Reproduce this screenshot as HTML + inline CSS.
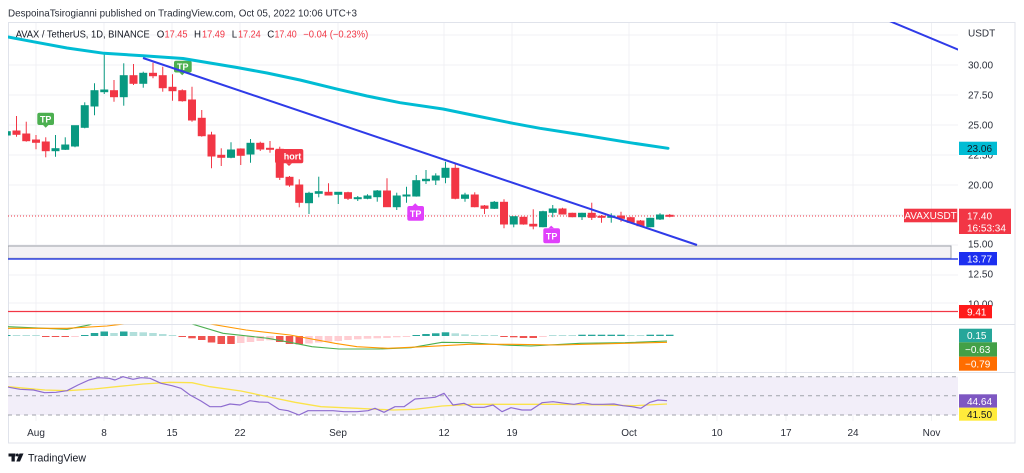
<!DOCTYPE html>
<html><head><meta charset="utf-8"><style>
html,body{margin:0;padding:0;background:#fff;}
svg{display:block;font-family:"Liberation Sans",Arial,sans-serif;}
</style></head><body>
<svg width="1024" height="473" viewBox="0 0 1024 473" xmlns="http://www.w3.org/2000/svg">
<defs>
<clipPath id="cm"><rect x="8" y="22" width="950" height="302"/></clipPath>
<clipPath id="cmacd"><rect x="8" y="324.5" width="950" height="47"/></clipPath>
<clipPath id="crsi"><rect x="8" y="372.5" width="950" height="49"/></clipPath>
</defs>
<rect width="1024" height="473" fill="#fff"/>
<!-- header -->
<text x="8" y="16.7" font-size="10.5" fill="#2a2e39" textLength="349" lengthAdjust="spacingAndGlyphs">DespoinaTsirogianni published on TradingView.com, Oct 05, 2022 10:06 UTC+3</text>

<!-- vertical grid -->
<g stroke="#f0f1f4" stroke-width="1">
<line x1="36" y1="22" x2="36" y2="421"/><line x1="104" y1="22" x2="104" y2="421"/><line x1="172" y1="22" x2="172" y2="421"/><line x1="240" y1="22" x2="240" y2="421"/><line x1="338" y1="22" x2="338" y2="421"/><line x1="444" y1="22" x2="444" y2="421"/><line x1="512" y1="22" x2="512" y2="421"/><line x1="629" y1="22" x2="629" y2="421"/><line x1="717" y1="22" x2="717" y2="421"/><line x1="786" y1="22" x2="786" y2="421"/><line x1="853" y1="22" x2="853" y2="421"/><line x1="931.5" y1="22" x2="931.5" y2="421"/>
</g>
<!-- horizontal grid main -->
<g stroke="#f0f1f4" stroke-width="1">
<line x1="8" y1="35" x2="958" y2="35"/><line x1="8" y1="65" x2="958" y2="65"/><line x1="8" y1="95" x2="958" y2="95"/><line x1="8" y1="125" x2="958" y2="125"/><line x1="8" y1="155" x2="958" y2="155"/><line x1="8" y1="185" x2="958" y2="185"/><line x1="8" y1="215" x2="958" y2="215"/><line x1="8" y1="245" x2="958" y2="245"/><line x1="8" y1="275" x2="958" y2="275"/><line x1="8" y1="303" x2="958" y2="303"/>
</g>

<!-- frame -->
<g stroke="#e0e3eb" stroke-width="1" fill="none">
<rect x="8.5" y="22.5" width="1006.5" height="420.5"/>
<line x1="8" y1="324.5" x2="1015" y2="324.5"/>
<line x1="8" y1="372.5" x2="1015" y2="372.5"/>
</g>

<text x="15.7" y="37.3" font-size="9.7" fill="#131722" textLength="134" lengthAdjust="spacingAndGlyphs">AVAX / TetherUS, 1D, BINANCE</text>
<g font-size="9.7">
<text x="156.7" y="37.3" fill="#131722">O</text><text x="164.5" y="37.3" fill="#f23645" textLength="23" lengthAdjust="spacingAndGlyphs">17.45</text>
<text x="194" y="37.3" fill="#131722">H</text><text x="202" y="37.3" fill="#f23645" textLength="23" lengthAdjust="spacingAndGlyphs">17.49</text>
<text x="231.7" y="37.3" fill="#131722">L</text><text x="238" y="37.3" fill="#f23645" textLength="22.7" lengthAdjust="spacingAndGlyphs">17.24</text>
<text x="267.3" y="37.3" fill="#131722">C</text><text x="274.5" y="37.3" fill="#f23645" textLength="22.2" lengthAdjust="spacingAndGlyphs">17.40</text>
<text x="303.3" y="37.3" fill="#f23645" textLength="65" lengthAdjust="spacingAndGlyphs">−0.04 (−0.23%)</text>
</g>

<g clip-path="url(#cm)">
<!-- gray rect & horizontal lines -->
<rect x="8" y="246" width="943" height="12.3" fill="#f3f2f5" stroke="#9da0a8" stroke-width="1"/>
<line x1="8" y1="259" x2="958" y2="259" stroke="#3447e6" stroke-width="1.6"/>
<line x1="8" y1="311.5" x2="958" y2="311.5" stroke="#f23645" stroke-width="1.3"/>
<line x1="8" y1="216" x2="904" y2="216" stroke="#f23645" stroke-width="1" stroke-dasharray="1,2"/>

<!-- labels -->
<rect x="37.3" y="112.7" width="16.7" height="12.3" rx="2" fill="#4caf50"/>
<polygon points="43,125 48.5,125 45.7,127.7" fill="#4caf50"/>
<text x="45.7" y="122.3" font-size="9" font-weight="bold" fill="#fff" text-anchor="middle">TP</text>
<rect x="174" y="60.7" width="17.7" height="11.8" rx="2" fill="#4caf50"/>
<polygon points="179.5,72.5 185,72.5 182.2,75.3" fill="#4caf50"/>
<text x="182.8" y="70" font-size="9" font-weight="bold" fill="#fff" text-anchor="middle">TP</text>
<rect x="407.3" y="206" width="16.7" height="14.7" rx="2" fill="#e040fb"/>
<polygon points="412.5,206 418,206 415.2,203.3" fill="#e040fb"/>
<text x="415.6" y="216.8" font-size="9" font-weight="bold" fill="#fff" text-anchor="middle">TP</text>
<rect x="543.3" y="228.3" width="16.7" height="15" rx="2" fill="#e040fb"/>
<polygon points="548.5,228.3 554,228.3 551.2,225.6" fill="#e040fb"/>
<text x="551.6" y="239.3" font-size="9" font-weight="bold" fill="#fff" text-anchor="middle">TP</text>
<rect x="275" y="149" width="28.3" height="14.3" rx="2" fill="#f23645"/>
<polygon points="286,163.3 292,163.3 289,166" fill="#f23645"/>
<text x="289.5" y="159.6" font-size="9" font-weight="bold" fill="#fff" text-anchor="middle">Short</text>

<!-- green candles -->
<g stroke="#089981" fill="#089981" stroke-width="1">
<line x1="6.75" y1="130" x2="6.75" y2="136"/><rect x="3.25" y="131.7" width="7" height="3.3"/>
<line x1="55.5" y1="135" x2="55.5" y2="156.7"/><rect x="52" y="148.7" width="7" height="2"/>
<line x1="65.25" y1="137.3" x2="65.25" y2="150"/><rect x="61.75" y="145" width="7" height="4.3"/>
<line x1="75" y1="125.7" x2="75" y2="147.3"/><rect x="71.5" y="125.7" width="7" height="20.3"/>
<line x1="84.75" y1="102.3" x2="84.75" y2="128.3"/><rect x="81.25" y="105.7" width="7" height="21.6"/>
<line x1="94.5" y1="83.3" x2="94.5" y2="115.3"/><rect x="91" y="90.7" width="7" height="15.3"/>
<line x1="104.25" y1="52" x2="104.25" y2="94"/><rect x="100.75" y="90" width="7" height="1.7"/>
<line x1="123.75" y1="63.3" x2="123.75" y2="105.7"/><rect x="120.25" y="75.7" width="7" height="21"/>
<line x1="143.25" y1="71.7" x2="143.25" y2="87.7"/><rect x="139.75" y="73.3" width="7" height="10"/>
<line x1="231" y1="142.3" x2="231" y2="158.3"/><rect x="227.5" y="150" width="7" height="7.3"/>
<line x1="250.5" y1="139" x2="250.5" y2="162.7"/><rect x="247" y="143.3" width="7" height="10.7"/>
<line x1="309" y1="191.7" x2="309" y2="214"/><rect x="305.5" y="193.3" width="7" height="9.4"/>
<line x1="318.75" y1="176.7" x2="318.75" y2="197.3"/><rect x="315.25" y="191.7" width="7" height="1.6"/>
<line x1="338.25" y1="192" x2="338.25" y2="204"/><rect x="334.75" y="192.3" width="7" height="2"/>
<line x1="357.75" y1="196" x2="357.75" y2="201"/><rect x="354.25" y="197.7" width="7" height="1"/>
<line x1="367.5" y1="194.3" x2="367.5" y2="199.3"/><rect x="364" y="196" width="7" height="2.3"/>
<line x1="377.25" y1="190" x2="377.25" y2="201.7"/><rect x="373.75" y="191" width="7" height="5.7"/>
<line x1="396.75" y1="192.7" x2="396.75" y2="210"/><rect x="393.25" y="196" width="7" height="10.7"/>
<line x1="406.5" y1="186.7" x2="406.5" y2="202.7"/><rect x="403" y="195" width="7" height="1"/>
<line x1="416.25" y1="175" x2="416.25" y2="196.7"/><rect x="412.75" y="180.7" width="7" height="15.3"/>
<line x1="426" y1="170" x2="426" y2="184"/><rect x="422.5" y="179.3" width="7" height="1.4"/>
<line x1="435.75" y1="173.3" x2="435.75" y2="185"/><rect x="432.25" y="176" width="7" height="4"/>
<line x1="445.5" y1="161.7" x2="445.5" y2="183.3"/><rect x="442" y="168.3" width="7" height="9"/>
<line x1="465" y1="192.7" x2="465" y2="201.7"/><rect x="461.5" y="195" width="7" height="3.3"/>
<line x1="494.25" y1="201" x2="494.25" y2="209"/><rect x="490.75" y="202.3" width="7" height="6"/>
<line x1="513.75" y1="216.7" x2="513.75" y2="227.3"/><rect x="510.25" y="216.7" width="7" height="7.3"/>
<line x1="543" y1="210.7" x2="543" y2="227.3"/><rect x="539.5" y="211.7" width="7" height="15"/>
<line x1="552.75" y1="205" x2="552.75" y2="217.3"/><rect x="549.25" y="209" width="7" height="3.3"/>
<line x1="582" y1="212.7" x2="582" y2="220"/><rect x="578.5" y="213.3" width="7" height="3.4"/>
<line x1="611.25" y1="213.3" x2="611.25" y2="222.7"/><rect x="607.75" y="216" width="7" height="1.3"/>
<line x1="650.25" y1="217.7" x2="650.25" y2="227.3"/><rect x="646.75" y="218.3" width="7" height="8.4"/>
<line x1="660" y1="213.3" x2="660" y2="220"/><rect x="656.5" y="215" width="7" height="4"/>
</g>
<!-- red candles -->
<g stroke="#f23645" fill="#f23645" stroke-width="1">
<line x1="16.5" y1="116" x2="16.5" y2="136.7"/><rect x="13" y="131" width="7" height="3.3"/>
<line x1="26.25" y1="121.7" x2="26.25" y2="141.7"/><rect x="22.75" y="134" width="7" height="6.7"/>
<line x1="36" y1="135" x2="36" y2="149.3"/><rect x="32.5" y="140" width="7" height="2.3"/>
<line x1="45.75" y1="137.3" x2="45.75" y2="157.3"/><rect x="42.25" y="142" width="7" height="8.7"/>
<line x1="114" y1="80" x2="114" y2="101.7"/><rect x="110.5" y="90.7" width="7" height="6"/>
<line x1="133.5" y1="64" x2="133.5" y2="85"/><rect x="130" y="75.7" width="7" height="7.6"/>
<line x1="153" y1="62.7" x2="153" y2="78.3"/><rect x="149.5" y="73.3" width="7" height="2.4"/>
<line x1="162.75" y1="66.7" x2="162.75" y2="91.7"/><rect x="159.25" y="75.7" width="7" height="12"/>
<line x1="172.5" y1="74.3" x2="172.5" y2="100.7"/><rect x="169" y="87.3" width="7" height="3.4"/>
<line x1="182.25" y1="89.3" x2="182.25" y2="101.7"/><rect x="178.75" y="90.7" width="7" height="10"/>
<line x1="192" y1="86.7" x2="192" y2="121.7"/><rect x="188.5" y="100" width="7" height="20"/>
<line x1="201.75" y1="110" x2="201.75" y2="136.7"/><rect x="198.25" y="118.3" width="7" height="17.4"/>
<line x1="211.5" y1="131.7" x2="211.5" y2="168.3"/><rect x="208" y="135" width="7" height="21"/>
<line x1="221.25" y1="148.3" x2="221.25" y2="166"/><rect x="217.75" y="155.3" width="7" height="2"/>
<line x1="240.75" y1="148.3" x2="240.75" y2="165"/><rect x="237.25" y="149" width="7" height="6.3"/>
<line x1="260.25" y1="141.7" x2="260.25" y2="151"/><rect x="256.75" y="143.3" width="7" height="5.7"/>
<line x1="270" y1="141" x2="270" y2="152.7"/><rect x="266.5" y="148.3" width="7" height="1"/>
<line x1="279.75" y1="146.7" x2="279.75" y2="180"/><rect x="276.25" y="149.3" width="7" height="28"/>
<line x1="289.5" y1="176" x2="289.5" y2="186.7"/><rect x="286" y="177.3" width="7" height="7.7"/>
<line x1="299.25" y1="179.3" x2="299.25" y2="207.3"/><rect x="295.75" y="185" width="7" height="17.3"/>
<line x1="328.5" y1="183.3" x2="328.5" y2="195"/><rect x="325" y="192.3" width="7" height="2.7"/>
<line x1="348" y1="191.7" x2="348" y2="200"/><rect x="344.5" y="192.7" width="7" height="5.6"/>
<line x1="387" y1="178.3" x2="387" y2="206.7"/><rect x="383.5" y="191" width="7" height="15.7"/>
<line x1="455.25" y1="164" x2="455.25" y2="199.3"/><rect x="451.75" y="168.3" width="7" height="30"/>
<line x1="474.75" y1="192.3" x2="474.75" y2="207.3"/><rect x="471.25" y="195" width="7" height="11.7"/>
<line x1="484.5" y1="205" x2="484.5" y2="214"/><rect x="481" y="206" width="7" height="2.3"/>
<line x1="504" y1="199.3" x2="504" y2="228.3"/><rect x="500.5" y="202.3" width="7" height="21.7"/>
<line x1="523.5" y1="216.7" x2="523.5" y2="224.7"/><rect x="520" y="217.3" width="7" height="6.7"/>
<line x1="533.25" y1="209.3" x2="533.25" y2="229.3"/><rect x="529.75" y="224.3" width="7" height="1.7"/>
<line x1="562.5" y1="207.7" x2="562.5" y2="214.3"/><rect x="559" y="209" width="7" height="5"/>
<line x1="572.25" y1="212.7" x2="572.25" y2="217.3"/><rect x="568.75" y="213.3" width="7" height="3.4"/>
<line x1="591.75" y1="202.7" x2="591.75" y2="220"/><rect x="588.25" y="213.3" width="7" height="4"/>
<line x1="601.5" y1="215" x2="601.5" y2="222.7"/><rect x="598" y="216.3" width="7" height="1"/>
<line x1="621" y1="211.7" x2="621" y2="221.7"/><rect x="617.5" y="216" width="7" height="2.3"/>
<line x1="630.75" y1="216.7" x2="630.75" y2="223.3"/><rect x="627.25" y="217.7" width="7" height="4.6"/>
<line x1="640.5" y1="220" x2="640.5" y2="226.7"/><rect x="637" y="221" width="7" height="4.7"/>
<line x1="669.75" y1="214" x2="669.75" y2="217.3"/><rect x="666.25" y="215.3" width="7" height="1"/>
</g>

<!-- EMA -->
<polyline fill="none" stroke="#00bcd4" stroke-width="3" stroke-linejoin="round" stroke-linecap="round" points="8,37 33,41.7 67,48 104,53.3 143,55.7 183,58.5 207,62.5 237,67.5 267,73 300,80 338,89.3 367,96 400,102.7 443,109 477,116 513,123.3 540,128.3 583,135 630,142.7 668,148.3"/>
<!-- trend lines -->
<line x1="143" y1="58" x2="697" y2="245" stroke="#2f3be8" stroke-width="2"/>
<line x1="889" y1="20.8" x2="959" y2="50" stroke="#2f3be8" stroke-width="2"/>
</g>

<!-- MACD pane -->
<g clip-path="url(#cmacd)">
<g fill="#26a69a">
<rect x="3" y="335" width="7.5" height="1"/><rect x="81" y="335" width="7.5" height="1"/><rect x="90.75" y="333" width="7.5" height="3"/><rect x="100.5" y="331.5" width="7.5" height="4.5"/><rect x="120" y="331.5" width="7.5" height="4.5"/>
<rect x="412.5" y="335" width="7.5" height="1"/><rect x="422.25" y="334" width="7.5" height="2"/><rect x="432" y="333.3" width="7.5" height="2.7"/><rect x="441.75" y="332.3" width="7.5" height="3.7"/>
<rect x="578.25" y="334.7" width="7.5" height="1.3"/><rect x="588" y="334.7" width="7.5" height="1.3"/><rect x="597.75" y="334.7" width="7.5" height="1.3"/><rect x="607.5" y="334.7" width="7.5" height="1.3"/><rect x="617.25" y="334.7" width="7.5" height="1.3"/>
<rect x="646.5" y="334.7" width="7.5" height="1.3"/><rect x="656.25" y="334.7" width="7.5" height="1.3"/><rect x="666" y="334.7" width="7.5" height="1.3"/>
</g>
<g fill="#b2dfdb">
<rect x="12.75" y="335" width="7.5" height="1"/><rect x="22.5" y="335" width="7.5" height="1"/><rect x="32.25" y="335" width="7.5" height="1"/>
<rect x="110.25" y="333" width="7.5" height="3"/><rect x="129.75" y="332" width="7.5" height="4"/><rect x="139.5" y="332.3" width="7.5" height="3.7"/><rect x="149.25" y="333" width="7.5" height="3"/><rect x="159" y="334" width="7.5" height="2"/><rect x="168.75" y="335" width="7.5" height="1"/>
<rect x="451.5" y="333.3" width="7.5" height="2.7"/><rect x="461.25" y="334.3" width="7.5" height="1.7"/><rect x="471" y="335" width="7.5" height="1"/><rect x="480.75" y="335" width="7.5" height="1"/><rect x="490.5" y="335" width="7.5" height="1"/>
<rect x="549" y="335" width="7.5" height="1"/><rect x="558.75" y="335" width="7.5" height="1"/><rect x="568.5" y="335" width="7.5" height="1"/>
<rect x="627" y="335" width="7.5" height="1"/><rect x="636.75" y="335" width="7.5" height="1"/>
</g>
<g fill="#ef5350">
<rect x="42" y="336" width="7.5" height="1"/><rect x="51.75" y="336" width="7.5" height="1"/><rect x="61.5" y="336" width="7.5" height="1"/>
<rect x="178.5" y="336" width="7.5" height="1"/><rect x="188.25" y="336" width="7.5" height="2.3"/><rect x="198" y="336" width="7.5" height="4"/><rect x="207.75" y="336" width="7.5" height="6.5"/><rect x="217.5" y="336" width="7.5" height="8"/><rect x="227.25" y="336" width="7.5" height="8"/>
<rect x="276" y="336" width="7.5" height="6"/><rect x="285.75" y="336" width="7.5" height="8"/><rect x="295.5" y="336" width="7.5" height="8.3"/>
<rect x="500.25" y="336" width="7.5" height="1"/><rect x="510" y="336" width="7.5" height="1.3"/><rect x="519.75" y="336" width="7.5" height="2"/><rect x="529.5" y="336" width="7.5" height="2"/>
</g>
<g fill="#ffcdd2">
<rect x="71.25" y="336" width="7.5" height="1"/>
<rect x="237" y="336" width="7.5" height="7"/><rect x="246.75" y="336" width="7.5" height="6"/><rect x="256.5" y="336" width="7.5" height="5"/><rect x="266.25" y="336" width="7.5" height="4.3"/>
<rect x="305.25" y="336" width="7.5" height="7.5"/><rect x="315" y="336" width="7.5" height="6.5"/><rect x="324.75" y="336" width="7.5" height="5.7"/><rect x="334.5" y="336" width="7.5" height="5"/><rect x="344.25" y="336" width="7.5" height="4"/><rect x="354" y="336" width="7.5" height="3.3"/><rect x="363.75" y="336" width="7.5" height="2.7"/><rect x="373.5" y="336" width="7.5" height="2.3"/><rect x="383.25" y="336" width="7.5" height="2"/><rect x="393" y="336" width="7.5" height="1.3"/><rect x="402.75" y="336" width="7.5" height="1"/>
<rect x="539.25" y="336" width="7.5" height="1"/>
</g>
<polyline fill="none" stroke="#4caf50" stroke-width="1.1" points="8,326.7 67,329.3 89,325 110,318 140,312 170,313 185,319 192,324 223,333.3 268,338.3 295,343.3 312,346.7 339,349 379,349 411,347.7 442,342.3 469,342.7 504,345 531,346 580,343.3 625,342.7 667,341"/>
<polyline fill="none" stroke="#ff9800" stroke-width="1.1" points="8,328.3 67,328.3 107,326 128,323.5 150,318 190,316 210,324 246,330 290,335 335,343.3 357,346.7 388,348.3 424,346.7 469,344.3 513,344.3 558,345 625,343.3 667,342.3"/>
</g>

<!-- RSI pane -->
<g clip-path="url(#crsi)">
<rect x="8" y="376.7" width="950" height="38.3" fill="#f2eef9"/>
<g stroke="#a0a3ab" stroke-width="1" stroke-dasharray="4,4">
<line x1="8" y1="376.7" x2="958" y2="376.7"/><line x1="8" y1="395.8" x2="958" y2="395.8"/><line x1="8" y1="415" x2="958" y2="415"/>
</g>
<polyline fill="none" stroke="#fbe34a" stroke-width="1.3" points="8,386.7 45,390 67,390.7 94,389 116,386.7 143,384 170,382.3 192,382.7 210,386.7 241,391 268,396.7 295,402.3 321,406.7 357,408.3 393,410 415,409.3 442,406 473,404.3 513,404.3 558,404.3 603,405 634,405.7 667,404"/>
<polyline fill="none" stroke="#8e6cd0" stroke-width="1.2" stroke-linejoin="round" points="8,387 9,387.3 20,389.3 33.5,390 44.6,392.7 56,392.3 67,390.7 78,385 89,380 98,377.7 109,378.3 115,380 123,376.7 133,379.3 141,377.7 150,378.3 161,383.3 172,385.7 181,388.3 190,395 201,401 210,406.7 221,406.7 230,404 240,405 250,400.7 259,402 268,402.3 279,409.3 288,410.7 299,415 308,410.7 321,410.7 333,410.7 344,411.7 357,411.7 368,410.7 375,408.3 384,412.3 395,406.7 404,406.7 415,399 424,398.3 435,397.3 444,393.3 453,405 464,403.3 473,407.3 484,407.3 493,405 502,411.7 511,407.7 522,410 531,410 542,402.7 553,401.7 565,403.3 574,404.3 583,402.7 592,404.3 603,404.3 614,404 623,405.7 632,406.7 641,408.3 650,402.3 658,400 667,400.7"/>
</g>

<!-- price axis -->
<g font-size="10" fill="#2a2e39">
<text x="968" y="36.5">USDT</text>
<text x="968" y="68.5">30.00</text>
<text x="968" y="98.5">27.50</text>
<text x="968" y="128.5">25.00</text>
<text x="968" y="158.5">22.50</text>
<text x="968" y="188.5">20.00</text>
<text x="968" y="247.5">15.00</text>
<text x="968" y="277.5">12.50</text>
<text x="968" y="307.5">10.00</text>
</g>
<!-- axis labels -->
<rect x="959" y="141.7" width="38" height="13.3" fill="#00bcd4"/>
<text x="967" y="152" font-size="10" fill="#131722">23.06</text>
<rect x="904" y="208.7" width="53.3" height="13.6" fill="#f23645"/>
<text x="930.6" y="219" font-size="10" fill="#fff" text-anchor="middle">AVAXUSDT</text>
<rect x="959" y="208.7" width="52" height="25.3" fill="#f23645"/>
<text x="967" y="219.5" font-size="10" fill="#fff">17.40</text>
<text x="967" y="231.5" font-size="10" fill="#fff">16:53:34</text>
<rect x="959" y="252" width="38" height="13.3" fill="#1c2ff0"/>
<text x="967" y="262.3" font-size="10" fill="#fff">13.77</text>
<rect x="959" y="305" width="33" height="13.3" fill="#ff1a1a"/>
<text x="967" y="315.3" font-size="10" fill="#fff">9.41</text>
<rect x="959" y="328.7" width="33" height="13.6" fill="#26a69a"/>
<text x="967" y="339.2" font-size="10" fill="#fff">0.15</text>
<rect x="959" y="342.3" width="38" height="14.4" fill="#43a047"/>
<text x="965" y="353.2" font-size="10" fill="#fff">−0.63</text>
<rect x="959" y="356.7" width="38" height="14" fill="#ff6d00"/>
<text x="965" y="367.4" font-size="10" fill="#fff">−0.79</text>
<rect x="959" y="394.3" width="38" height="13.4" fill="#7e57c2"/>
<text x="967" y="404.8" font-size="10" fill="#fff">44.64</text>
<rect x="959" y="407.7" width="38" height="13" fill="#ffeb3b"/>
<text x="967" y="418" font-size="10" fill="#131722">41.50</text>

<!-- time axis -->
<g font-size="10" fill="#2a2e39" text-anchor="middle">
<text x="36" y="436">Aug</text><text x="104" y="436">8</text><text x="172" y="436">15</text><text x="240" y="436">22</text><text x="338" y="436">Sep</text><text x="444" y="436">12</text><text x="512" y="436">19</text><text x="629" y="436">Oct</text><text x="717" y="436">10</text><text x="786" y="436">17</text><text x="853" y="436">24</text><text x="931.5" y="436">Nov</text>
</g>

<!-- logo -->
<g fill="#131722">
<rect x="8.5" y="453.5" width="7" height="3"/><rect x="11.5" y="453.5" width="3.3" height="8"/>
<circle cx="17.3" cy="455" r="1.5"/>
<polygon points="19.5,453.5 23.5,453.5 20,461.5 16.3,461.5"/>
</g>
<text x="28" y="461.5" font-size="11" fill="#131722" textLength="58" lengthAdjust="spacingAndGlyphs">TradingView</text>
</svg>
</body></html>
